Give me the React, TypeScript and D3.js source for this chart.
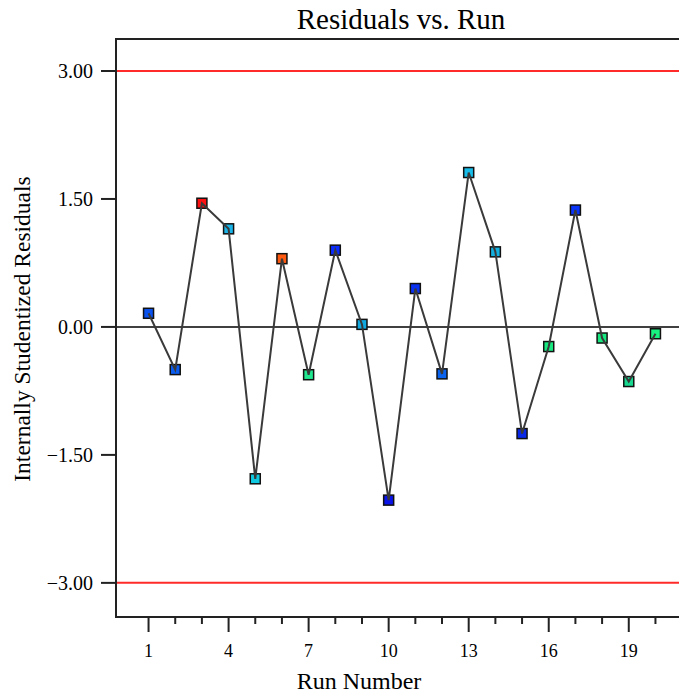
import React from "react";
import * as d3 from "d3";

const runs = [1, 2, 3, 4, 5, 6, 7, 8, 9, 10, 11, 12, 13, 14, 15, 16, 17, 18, 19, 20];
const residuals = [0.16, -0.5, 1.45, 1.15, -1.78, 0.8, -0.56, 0.9, 0.03, -2.03, 0.45, -0.55, 1.81, 0.88, -1.25, -0.23, 1.37, -0.13, -0.64, -0.08];
const pointColors = [
  "#0a52f0", "#0a5cf0", "#ff1010", "#1ab4e8", "#10c8e0", "#ff5a10", "#20e890", "#0a2cff", "#12a8e0", "#0a14e8",
  "#0a30f0", "#0a64f0", "#18bce8", "#14b0e0", "#0a28e8", "#18e880", "#0a34f8", "#18e880", "#18d890", "#18f080",
];
const xMajorTicks = [1, 4, 7, 10, 13, 16, 19];
const xMinorTicks = [2, 3, 5, 6, 8, 9, 11, 12, 14, 15, 17, 18, 20, 21];
const yTicks = [-3, -1.5, 0, 1.5, 3];
const limits = [-3, 3];

const W = 679;
const H = 694;
const left = 116;
const right = 688;
const top = 39;
const bottom = 617;
const FONT = "'Liberation Serif', 'Times New Roman', serif";

export default function App() {
  const x = d3.scaleLinear().domain([-0.22, 21.22]).range([left, right]);
  const y = d3.scaleLinear().domain([-3.4, 3.375]).range([bottom, top]);
  const pts = runs.map((r, i) => [r, residuals[i]] as [number, number]);
  const line = d3.line<[number, number]>().x((d) => x(d[0])).y((d) => y(d[1]));
  const sq = 10;
  return (
    <svg width={W} height={H} style={{ position: "absolute", left: 0, top: 0, background: "#fff" }} fontFamily={FONT}>
      <rect x={0} y={0} width={W} height={H} fill="#fff" />
      <text x={401} y={29} textAnchor="middle" fontSize={29} fill="#000">Residuals vs. Run</text>
      {limits.map((v) => (
        <line key={v} x1={left} x2={W} y1={y(v)} y2={y(v)} stroke="#ff2a2a" strokeWidth={2} />
      ))}
      <line x1={left} x2={W} y1={y(0)} y2={y(0)} stroke="#000" strokeWidth={1.5} />
      <path d={`M${W},${top}H${left}V${bottom}H${W}`} fill="none" stroke="#222" strokeWidth={2} />
      {yTicks.map((t) => (
        <g key={t}>
          <line x1={left - 15} x2={left} y1={y(t)} y2={y(t)} stroke="#222" strokeWidth={2} />
          <text x={93} y={y(t)} dy="0.35em" textAnchor="end" fontSize={20} fill="#000">{d3.format(".2f")(t)}</text>
        </g>
      ))}
      {xMajorTicks.map((t) => (
        <g key={t}>
          <line x1={x(t)} x2={x(t)} y1={bottom} y2={bottom + 15} stroke="#222" strokeWidth={2} />
          <text x={x(t)} y={657} textAnchor="middle" fontSize={18} fill="#000">{t}</text>
        </g>
      ))}
      {xMinorTicks.map((t) => (
        <line key={t} x1={x(t)} x2={x(t)} y1={bottom} y2={bottom + 7} stroke="#222" strokeWidth={2} />
      ))}
      <text x={359} y={689} textAnchor="middle" fontSize={24} fill="#000">Run Number</text>
      <text transform={`translate(30,329) rotate(-90)`} textAnchor="middle" fontSize={23.5} fill="#000">Internally Studentized Residuals</text>
      {pts.map((d, i) => (
        <rect key={i} x={x(d[0]) - sq / 2} y={y(d[1]) - sq / 2} width={sq} height={sq} fill={pointColors[i]} stroke="#111" strokeWidth={1.5} />
      ))}
      <path d={line(pts) || ""} fill="none" stroke="#3a3a3a" strokeWidth={2} />
    </svg>
  );
}
